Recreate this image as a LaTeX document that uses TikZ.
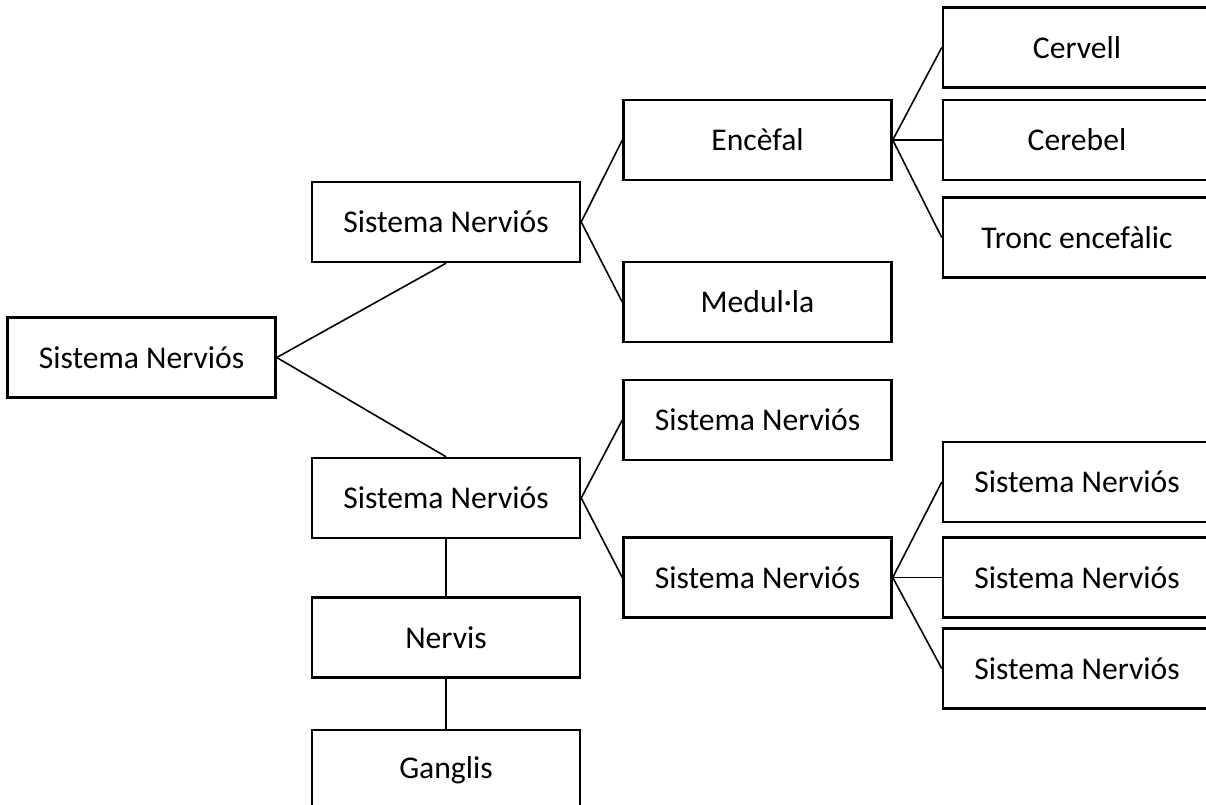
\documentclass[tikz,border=0pt]{standalone}
\usepackage{fontspec}
\setmainfont{Carlito}
\usetikzlibrary{positioning}

\begin{document}
\begin{tikzpicture}[
  box/.style={draw, line width=1.4pt, minimum width=5.36cm,
    minimum height=1.6cm, inner sep=0pt, font=\fontsize{18}{21}\selectfont},
  line width=0.9pt
]
\useasboundingbox (0,0) rectangle (24.12,-16.1);
\clip (0,0) rectangle (24.12,-16.1);
\node[box] (root) at (2.83,-7.15) {Sistema Nerviós};
\node[box] (central) at (8.92,-4.44) {Sistema Nerviós};
\node[box] (perif) at (8.92,-9.96) {Sistema Nerviós};
\node[box] (nervis) at (8.92,-12.75) {Nervis};
\node[box] (ganglis) at (8.92,-15.4) {Ganglis};
\node[box] (encefal) at (15.15,-2.8) {Encèfal};
\node[box] (medulla) at (15.15,-6.04) {Medul·la};
\node[box] (somatic) at (15.15,-8.4) {Sistema Nerviós};
\node[box] (auton) at (15.15,-11.55) {Sistema Nerviós};
\node[box] (cervell) at (21.54,-0.95) {Cervell};
\node[box] (cerebel) at (21.54,-2.8) {Cerebel};
\node[box] (tronc) at (21.54,-4.75) {Tronc encefàlic};
\node[box] (simp) at (21.54,-9.64) {Sistema Nerviós};
\node[box] (parasimp) at (21.54,-11.55) {Sistema Nerviós};
\node[box] (enteric) at (21.54,-13.37) {Sistema Nerviós};

\draw (root.east) -- (central.south);
\draw (root.east) -- (perif.north);
\draw (central.east) -- (encefal.west);
\draw (central.east) -- (medulla.west);
\draw (encefal.east) -- (cervell.west);
\draw (encefal.east) -- (cerebel.west);
\draw (encefal.east) -- (tronc.west);
\draw (perif.east) -- (somatic.west);
\draw (perif.east) -- (auton.west);
\draw (auton.east) -- (simp.west);
\draw (auton.east) -- (parasimp.west);
\draw (auton.east) -- (enteric.west);
\draw (perif.south) -- (nervis.north);
\draw (nervis.south) -- (ganglis.north);
\end{tikzpicture}
\end{document}
